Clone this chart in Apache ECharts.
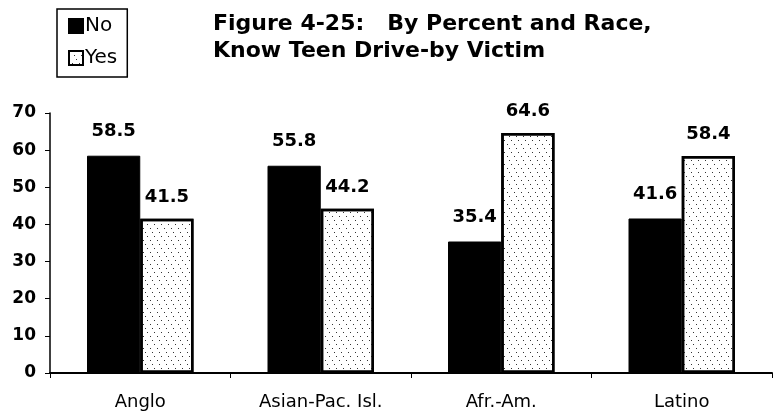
<!DOCTYPE html>
<html><head><meta charset="utf-8">
<script src="https://cdn.jsdelivr.net/npm/echarts@6/dist/echarts.min.js"></script>
<style>html,body{margin:0;padding:0;background:#fff}#c{width:773px;height:417px}</style>
</head><body><div id="c"></div>
<script>
var categories = ['Anglo', 'Asian-Pac. Isl.', 'Afr.-Am.', 'Latino'];
var noValues = [58.5, 55.8, 35.4, 41.6];
var yesValues = [41.5, 44.2, 64.6, 58.4];
var yTicks = [0, 10, 20, 30, 40, 50, 60, 70];
var titleText = 'Figure 4-25:   By Percent and Race,\nKnow Teen Drive-by Victim';

var font = 'DejaVu Sans, Verdana, sans-serif';
var chart = echarts.init(document.getElementById('c'), null, {renderer: 'canvas'});
var dotDecal = {
  symbol: 'rect', symbolSize: 1, color: '#333',
  dashArrayX: [[1, 6], [0, 3, 1, 3], [0, 5, 1, 1]], dashArrayY: [1, 3], rotation: 0
};
chart.setOption({
  backgroundColor: '#fff',
  animation: false,
  title: {
    text: titleText, left: 208, top: 6,
    textStyle: {fontFamily: font, fontSize: 22, fontWeight: 'bold', color: '#000', lineHeight: 27}
  },
  legend: {
    orient: 'vertical', left: 57, top: 9,
    data: ['No', 'Yes'],
    itemWidth: 14, itemHeight: 14, itemGap: 10,
    borderColor: '#000', borderWidth: 1.5, padding: [6, 10, 8, 11],
    textStyle: {fontFamily: font, fontSize: 20, color: '#000', padding: [0, 0, 0, -3], lineHeight: 22},
    icon: 'rect'
  },
  grid: {left: 50, right: 1, top: 113, bottom: 44},
  xAxis: {
    type: 'category', data: categories,
    axisLine: {lineStyle: {color: '#000', width: 2}},
    axisTick: {show: true, length: 5, lineStyle: {color: '#000'}},
    axisLabel: {fontFamily: font, fontSize: 18, color: '#000', margin: 20}
  },
  yAxis: {
    type: 'value', min: 0, max: 70, interval: 10,
    splitLine: {show: false},
    axisLine: {show: true, lineStyle: {color: '#000', width: 1.5}},
    axisTick: {show: true, length: 5, lineStyle: {color: '#000'}},
    axisLabel: {fontFamily: font, fontSize: 17, fontWeight: 'bold', color: '#000', margin: 14,
      formatter: function (v) { return yTicks.indexOf(v) >= 0 ? String(v) : ''; }}
  },
  series: [
    {
      name: 'No', type: 'bar', data: noValues, barGap: '0%', barCategoryGap: '41%',
      itemStyle: {color: '#000', borderColor: '#000', borderWidth: 1},
      label: {show: true, position: 'top', distance: 15, fontFamily: font, fontSize: 18, fontWeight: 'bold', color: '#000'}
    },
    {
      name: 'Yes', type: 'bar', data: yesValues,
      itemStyle: {color: '#fff', borderColor: '#000', borderWidth: 2.5, decal: dotDecal},
      label: {show: true, position: 'top', distance: 13, fontFamily: font, fontSize: 18, fontWeight: 'bold', color: '#000'}
    }
  ]
});
</script></body></html>
